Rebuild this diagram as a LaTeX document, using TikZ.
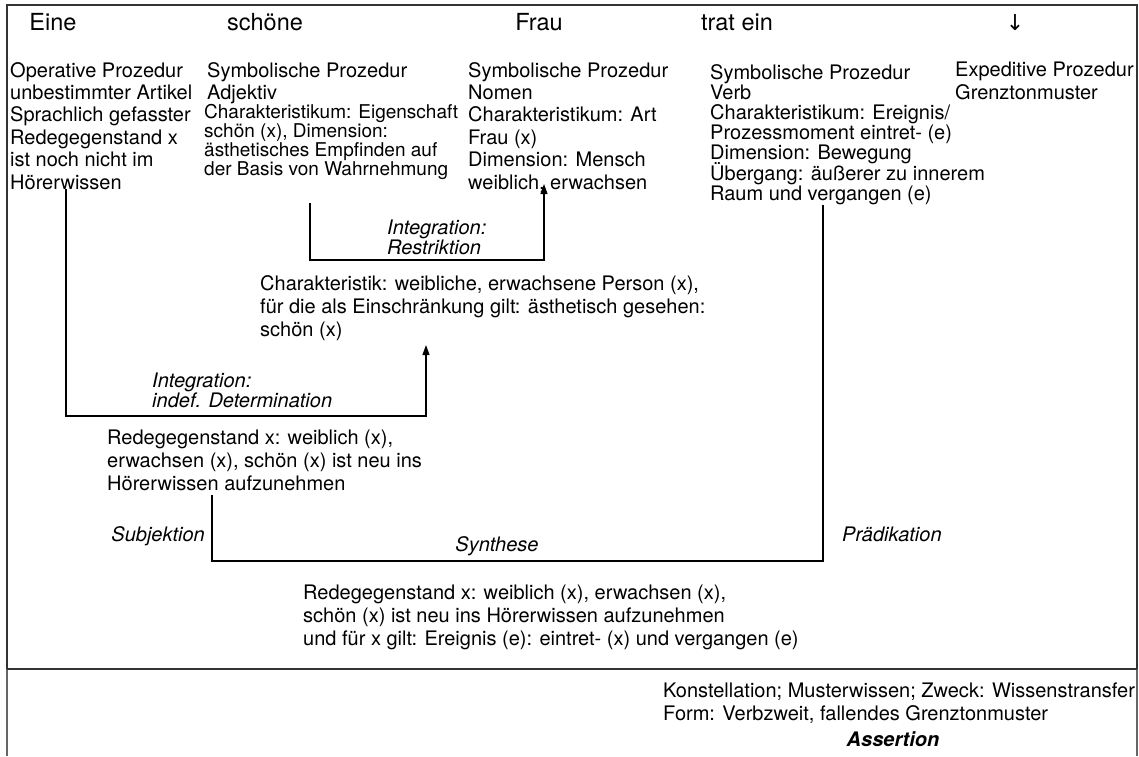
\documentclass[tikz,border=0pt]{standalone}
\usepackage{fontspec}
\setmainfont{TeX Gyre Heros}
\newfontfamily\symfont{DejaVu Sans}
\usetikzlibrary{arrows.meta}
% fixed line pitch, even for lines with accents
\newcommand\fixedpitch{\lineskiplimit-20pt\relax}

\begin{document}
\begin{tikzpicture}[x=1pt,y=-1pt,
  txt/.style={inner sep=0pt, align=left, anchor=north west,
    font=\fontsize{20}{22.4}\selectfont\fixedpitch},
  tight/.style={txt, font=\fontsize{20}{20.2}\selectfont\fixedpitch},
  small/.style={txt, font=\fontsize{19}{19}\selectfont\fixedpitch},
  body/.style={txt, font=\fontsize{20}{23}\selectfont\fixedpitch},
  lbl/.style={txt, font=\fontsize{20}{20}\selectfont\itshape\fixedpitch},
  head/.style={inner sep=0pt, anchor=base, font=\fontsize{23.5}{27}\selectfont},
  conn/.style={line width=1.2pt, draw=black},
  arr/.style={conn, -{Triangle[length=10pt,width=7pt]}},
  frame/.style={line width=1.6pt, draw=black!80}]

\useasboundingbox (0,0) rectangle (1139,756);

% outer frame and the divider above the constellation row
\draw[frame] (7,669) -- (7,5) -- (1137,5) -- (1137,669);
\draw[frame, draw=black!60] (7,669) -- (7,756);
\draw[frame, draw=black!60] (1137,669) -- (1137,756);
\draw[frame] (7,669) -- (1137,669);

% the words of the sentence
\node[head] (w1) at (53,30) {Eine};
\node[head] (w2) at (265,30) {schöne};
\node[head] (w3) at (539,30) {Frau};
\node[head] (w4) at (737,30) {trat ein};
\node[head, font=\symfont\fontsize{22}{26}\selectfont] (w5) at (1015,30) {↓};

% procedures per word
\node[txt] (col1) at (10,62) {Operative Prozedur\\unbestimmter Artikel\\Sprachlich gefasster\\Redegegenstand x\\ist noch nicht im\\Hörerwissen};
\node[txt] (col2a) at (207,62) {Symbolische Prozedur\\Adjektiv};
\node[small] (col2b) at (204,104) {Charakteristikum: Eigenschaft\\schön (x), Dimension:\\ästhetisches Empfinden auf\\der Basis von Wahrnehmung};
\node[txt] (col3) at (468,62) {Symbolische Prozedur\\Nomen\\Charakteristikum: Art\\Frau (x)\\Dimension: Mensch\\weiblich, erwachsen};
\node[tight] (col4) at (710,64) {Symbolische Prozedur\\Verb\\Charakteristikum: Ereignis/\\Prozessmoment eintret- (e)\\Dimension: Bewegung\\Übergang: äußerer zu innerem\\Raum und vergangen (e)};
\node[txt] (col5) at (955,62) {Expeditive Prozedur\\Grenztonmuster};

% integration results
\node[lbl] (restr) at (387,220) {Integration:\\Restriktion};
\node[body] (charak) at (260,275) {Charakteristik: weibliche, erwachsene Person (x),\\für die als Einschränkung gilt: ästhetisch gesehen:\\schön (x)};
\node[lbl] (det) at (152,373) {Integration:\\indef. Determination};
\node[body] (rede1) at (107,430) {Redegegenstand x: weiblich (x),\\erwachsen (x), schön (x) ist neu ins\\Hörerwissen aufzunehmen};
\node[lbl, anchor=base east] (subj) at (205,541) {Subjektion};
\node[lbl, anchor=base] (synth) at (497,551) {Synthese};
\node[lbl, anchor=base west] (praed) at (842,541) {Prädikation};
\node[body] (rede2) at (303,585) {Redegegenstand x: weiblich (x), erwachsen (x),\\schön (x) ist neu ins Hörerwissen aufzunehmen\\und für x gilt: Ereignis (e): eintret- (x) und vergangen (e)};

% constellation row
\node[body] (konst) at (663,683) {Konstellation; Musterwissen; Zweck: Wissenstransfer\\Form: Verbzweit, fallendes Grenztonmuster};
\node[inner sep=0pt, anchor=base, font=\fontsize{20}{23}\selectfont\bfseries\itshape] (assert) at (893,746) {Assertion};

% connector ends
\coordinate (adjOut) at (310,203);
\coordinate (nomIn) at (544,184);
\coordinate (bar1) at (0,260);
\coordinate (artOut) at (66,189);
\coordinate (charIn) at (426,345);
\coordinate (bar2) at (0,416);
\coordinate (subjOut) at (212,495);
\coordinate (predOut) at (823,205);
\coordinate (bar3) at (0,561);

% Restriktion: adjective into noun
\draw[arr] (adjOut) -- (adjOut |- bar1) -- (nomIn |- bar1) -- (nomIn);
% indefinite determination: article into the restricted noun phrase
\draw[arr] (artOut) -- (artOut |- bar2) -- (charIn |- bar2) -- (charIn);
% synthesis of subject and predicate
\draw[conn] (subjOut) -- (subjOut |- bar3) -- (predOut |- bar3) -- (predOut);
\end{tikzpicture}
\end{document}
